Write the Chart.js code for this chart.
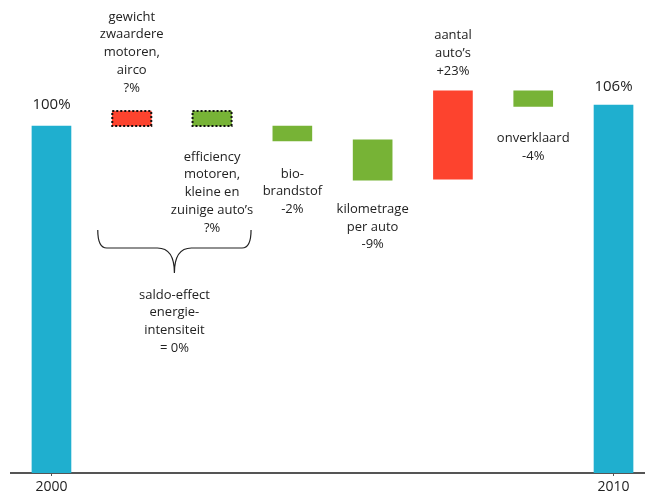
<!DOCTYPE html>
<html>
<head>
<meta charset="utf-8">
<script src="https://cdn.jsdelivr.net/npm/chart.js@4/dist/chart.umd.min.js"></script>
<style>
  html, body { margin: 0; padding: 0; background: #fff; overflow: hidden; }
  #wrap { width: 645px; height: 493px; position: relative; }
</style>
</head>
<body>
<div id="wrap"><canvas id="chart"></canvas></div>
<script>
// waterfall: energieverbruik personenauto's 2000 -> 2010 (index, 2000 = 100%)

const categories = ['2000', 'gewicht', 'efficiency', 'biobrandstof', 'kilometrage', 'aantal auto\u2019s', 'onverklaard', '2010'];
const barStart = [0, 100, 100, 95.7, 84.4, 84.7, 105.6, 0];
const barEnd = [100, 104.3, 104.3, 100, 96.0, 110.1, 110.1, 106];
const barKind = ['total', 'up', 'down', 'down', 'down', 'up', 'down', 'total'];
const uncertain = [false, true, true, false, false, false, false, false];
const tickIndex = [0, 7];

const labelLines = [
  ['100%'],
  ['gewicht', 'zwaardere', 'motoren,', 'airco', '?%'],
  ['efficiency', 'motoren,', 'kleine en', 'zuinige auto\u2019s', '?%'],
  ['bio-', 'brandstof', '-2%'],
  ['kilometrage', 'per auto', '-9%'],
  ['aantal', 'auto\u2019s', '+23%'],
  ['onverklaard', '-4%'],
  ['106%'],
];
const braceLines = ['saldo-effect', 'energie-', 'intensiteit', '= 0%'];

// where each label sits (pixels from the bar's top or bottom)
const labelPlace = [
  { side: 'top', gap: 21, big: true },
  { side: 'top', gap: 23 },
  { side: 'bottom', gap: 31 },
  { side: 'bottom', gap: 33 },
  { side: 'bottom', gap: 29 },
  { side: 'top', gap: 20 },
  { side: 'bottom', gap: 32 },
  { side: 'top', gap: 18, big: true },
];

const colors = { total: '#1fafcf', up: '#fd432e', down: '#77b336' };
const ink = '#222';
const font = '"Open Sans", "DejaVu Sans", sans-serif';
const lineH = 17.8;

const data = categories.map((c, i) => ({ x: i, y: [barStart[i], barEnd[i]] }));

const labelPlugin = {
  id: 'labels',
  afterDatasetsDraw(chart) {
    const { ctx, scales: { x } } = chart;
    const bars = chart.getDatasetMeta(0).data;
    ctx.save();

    // dotted outline on the two uncertain effects
    ctx.strokeStyle = '#111';
    ctx.lineWidth = 2;
    ctx.setLineDash([2, 2]);
    bars.forEach((b, i) => {
      if (!uncertain[i]) return;
      const top = Math.min(b.y, b.base), h = Math.abs(b.base - b.y);
      ctx.strokeRect(b.x - b.width / 2, top, b.width, h);
    });
    ctx.setLineDash([]);

    ctx.fillStyle = ink;
    ctx.textAlign = 'center';
    ctx.textBaseline = 'middle';
    bars.forEach((b, i) => {
      const lines = labelLines[i];
      const p = labelPlace[i];
      ctx.font = (p.big ? '15px ' : '13px ') + font;
      const top = Math.min(b.y, b.base), bottom = Math.max(b.y, b.base);
      lines.forEach((t, k) => {
        const y = p.side === 'top'
          ? top - p.gap - (lines.length - 1 - k) * lineH
          : bottom + p.gap + k * lineH;
        ctx.fillText(t, b.x, y);
      });
    });

    // brace under the two uncertain effects
    const xL = x.getPixelForValue(1) - 34;
    const xR = x.getPixelForValue(2) + 39;
    const xC = (xL + xR) / 2;
    const yTop = 230, yMid = 248, yTip = 273, r = 9, rc = 17;
    ctx.strokeStyle = '#222';
    ctx.lineWidth = 1.2;
    ctx.beginPath();
    ctx.moveTo(xL, yTop);
    ctx.quadraticCurveTo(xL, yMid, xL + r, yMid);
    ctx.lineTo(xC - rc, yMid);
    ctx.quadraticCurveTo(xC, yMid, xC, yTip);
    ctx.quadraticCurveTo(xC, yMid, xC + rc, yMid);
    ctx.lineTo(xR - r, yMid);
    ctx.quadraticCurveTo(xR, yMid, xR, yTop);
    ctx.stroke();

    ctx.font = '13px ' + font;
    braceLines.forEach((t, k) => ctx.fillText(t, xC, 295 + k * 17.6));
    ctx.restore();
  },
};

new Chart(document.getElementById('chart'), {
  type: 'bar',
  data: {
    datasets: [{
      data,
      backgroundColor: barKind.map((k) => colors[k]),
      borderWidth: 0,
      barThickness: 39,
    }],
  },
  options: {
    responsive: true,
    maintainAspectRatio: false,
    animation: false,
    layout: { padding: { left: 11, right: 0, top: 0, bottom: -5 } },
    plugins: { legend: { display: false }, tooltip: { enabled: false } },
    scales: {
      x: {
        type: 'linear',
        min: -0.504,
        max: 7.392,
        offset: false,
        afterBuildTicks: (axis) => { axis.ticks = tickIndex.map((v) => ({ value: v })); },
        ticks: {
          color: ink,
          padding: 4,
          font: { family: font, size: 14, lineHeight: 1 },
          callback: (v) => categories[v],
        },
        grid: { offset: false, drawOnChartArea: false, drawTicks: true, tickLength: 3, color: '#555' },
        border: { color: '#555', width: 2 },
      },
      y: {
        display: false,
        min: 0,
        max: 136.3,
      },
    },
  },
  plugins: [labelPlugin],
});
</script>
</body>
</html>
